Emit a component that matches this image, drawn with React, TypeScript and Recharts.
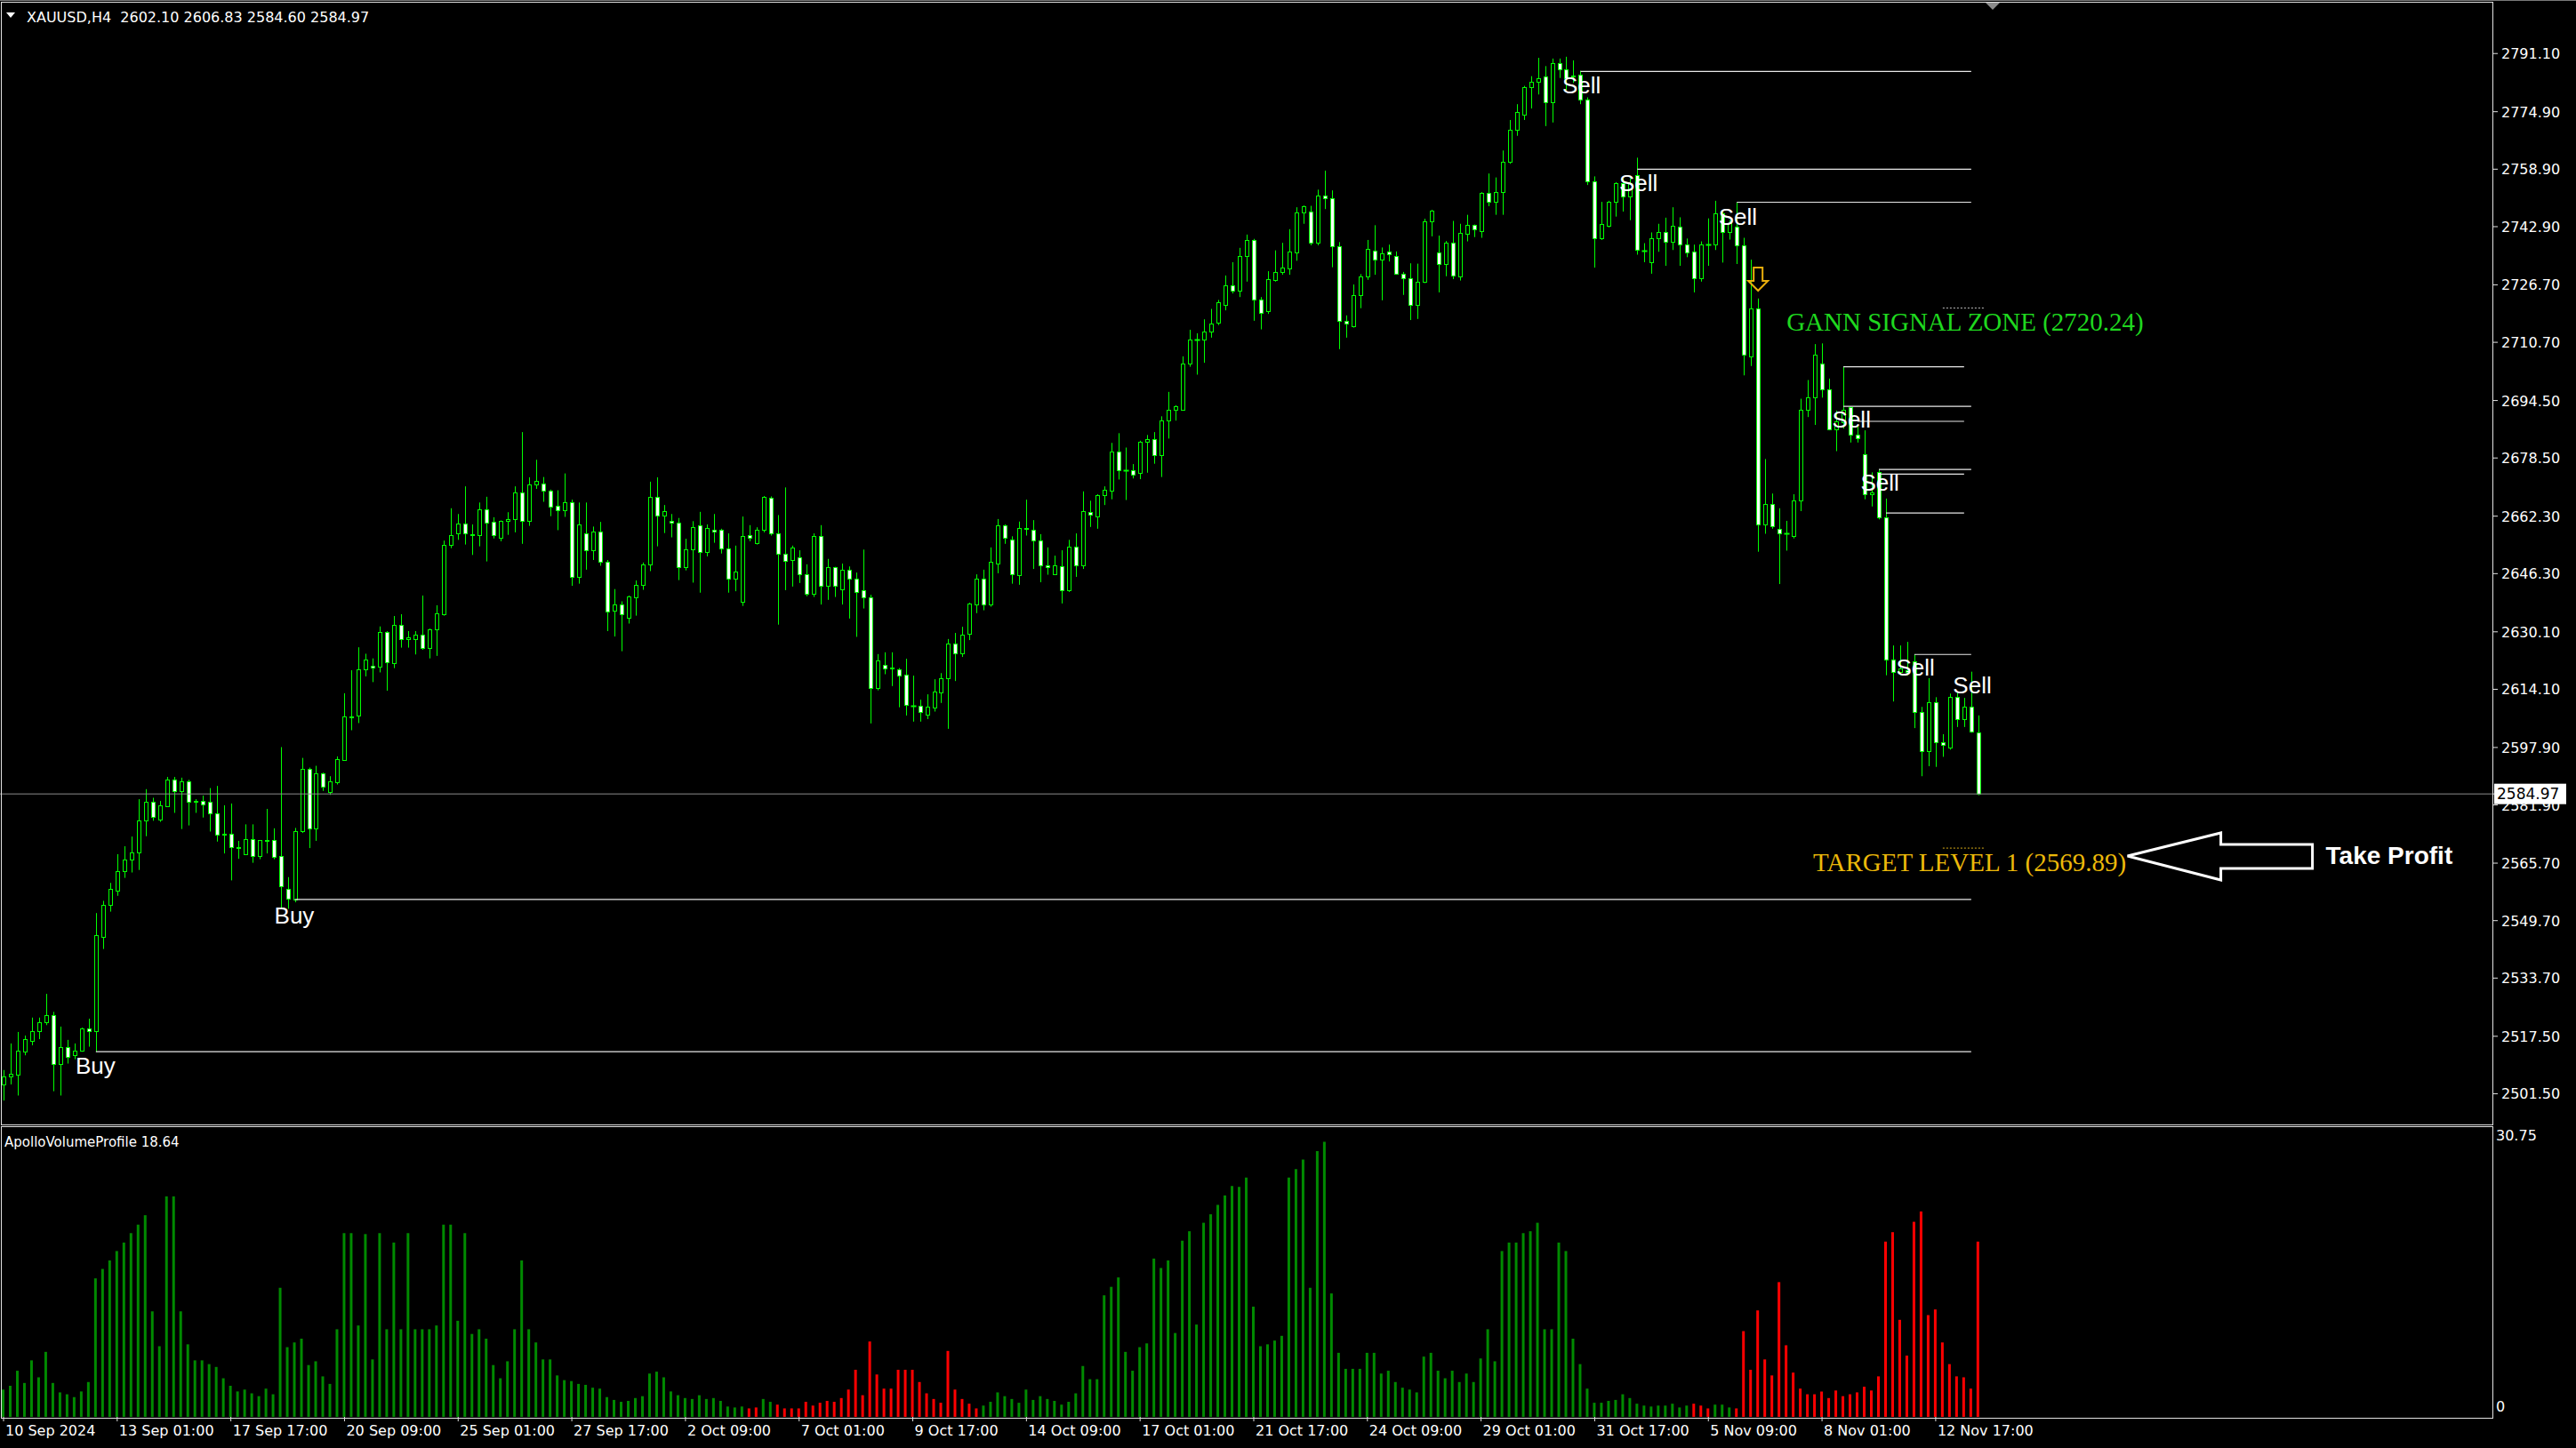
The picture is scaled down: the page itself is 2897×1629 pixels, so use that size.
import React from 'react';
import { ComposedChart, Bar, XAxis, YAxis, ReferenceLine, ReferenceDot, Cell } from 'recharts';

// XAUUSD H4 candles (bar 0 = 10 Sep 2024)
const opens = [
  2504.1, 2506.2, 2506.7, 2513.2, 2516.1, 2518.9, 2521.3, 2523.3, 2509.7, 2514.6,
  2512.2, 2513.4, 2519.6, 2518.9, 2545.1, 2554.2, 2558.0, 2563.4, 2566.6, 2568.6,
  2577.5, 2582.7, 2577.8, 2581.6, 2588.9, 2585.7, 2588.4, 2582.7, 2583.0, 2582.7,
  2579.5, 2573.7, 2573.8, 2570.0, 2568.3, 2572.3, 2567.8, 2572.0, 2572.1, 2567.6,
  2558.6, 2555.5, 2574.6, 2591.9, 2575.3, 2590.7, 2585.4, 2588.3, 2594.5, 2606.4,
  2606.8, 2619.7, 2620.6, 2620.3, 2630.1, 2621.5, 2632.0, 2628.0, 2628.0, 2629.2,
  2625.5, 2630.9, 2635.0, 2654.2, 2657.5, 2660.2, 2657.1, 2657.0, 2664.3, 2660.7,
  2656.4, 2660.9, 2661.4, 2668.8, 2660.9, 2671.1, 2671.5, 2669.5, 2665.2, 2663.9,
  2666.1, 2645.4, 2657.5, 2652.8, 2658.0, 2649.7, 2635.9, 2637.8, 2634.1, 2639.8,
  2643.1, 2648.8, 2667.7, 2662.4, 2661.1, 2660.6, 2648.0, 2653.0, 2659.7, 2652.2,
  2658.4, 2658.4, 2653.2, 2644.8, 2638.4, 2657.0, 2654.9, 2658.4, 2667.3, 2657.4,
  2651.9, 2650.1, 2650.8, 2646.2, 2640.8, 2656.7, 2642.8, 2648.0, 2642.0, 2647.3,
  2645.0, 2641.6, 2639.6, 2614.5, 2621.0, 2620.0, 2619.6, 2618.1, 2609.5, 2609.4,
  2607.0, 2609.1, 2613.3, 2617.3, 2626.8, 2624.0, 2629.6, 2637.7, 2644.8, 2637.7,
  2649.2, 2659.7, 2655.7, 2646.0, 2658.8, 2658.4, 2655.5, 2648.6, 2646.2, 2648.3,
  2641.8, 2653.7, 2648.5, 2663.5, 2662.1, 2668.1, 2669.5, 2680.2, 2675.1, 2675.1,
  2674.4, 2683.1, 2683.7, 2679.4, 2688.9, 2692.0, 2691.9, 2704.7, 2711.4, 2711.4,
  2713.6, 2716.1, 2721.0, 2726.5, 2725.0, 2734.7, 2739.2, 2722.7, 2719.4, 2728.0,
  2730.3, 2731.3, 2735.6, 2746.8, 2747.0, 2738.5, 2751.5, 2750.7, 2737.4, 2716.6,
  2715.3, 2723.8, 2729.0, 2736.3, 2733.7, 2735.9, 2734.7, 2729.9, 2728.6, 2721.2,
  2727.5, 2744.3, 2735.6, 2732.4, 2738.4, 2729.1, 2740.8, 2743.3, 2741.7, 2752.2,
  2749.9, 2752.5, 2760.9, 2769.8, 2774.1, 2781.7, 2783.2, 2784.6, 2777.5, 2788.5,
  2786.8, 2785.0, 2785.3, 2778.3, 2755.5, 2739.6, 2743.2, 2749.8, 2755.0, 2751.4,
  2757.2, 2736.2, 2733.0, 2739.8, 2741.3, 2738.6, 2743.0, 2738.0, 2735.9, 2728.6,
  2737.9, 2737.9, 2746.7, 2741.3, 2743.0, 2737.6, 2706.8, 2720.2, 2659.9, 2665.6,
  2658.8, 2657.4, 2656.9, 2666.6, 2691.9, 2695.3, 2704.9, 2697.5, 2686.5, 2688.5,
  2692.7, 2685.1, 2679.6, 2668.5, 2674.6, 2661.9, 2622.5, 2619.0, 2619.5, 2622.0,
  2607.9, 2596.8, 2610.4, 2599.3, 2597.8, 2612.1, 2605.7, 2609.2, 2602.1,
];

const highs = [
  2508.1, 2515.5, 2518.7, 2517.7, 2522.7, 2522.7, 2529.3, 2524.3, 2520.2, 2516.5,
  2515.5, 2519.9, 2522.4, 2551.8, 2555.2, 2560.2, 2568.2, 2570.4, 2573.1, 2583.5,
  2586.3, 2583.9, 2583.0, 2589.7, 2589.7, 2589.5, 2588.9, 2583.5, 2584.5, 2586.6,
  2587.2, 2581.8, 2582.3, 2571.9, 2576.5, 2576.5, 2572.1, 2580.8, 2575.4, 2598.0,
  2561.8, 2575.5, 2595.0, 2592.3, 2592.8, 2590.9, 2589.9, 2595.4, 2613.0, 2619.4,
  2625.8, 2624.0, 2622.7, 2631.6, 2630.3, 2634.5, 2635.0, 2630.3, 2630.3, 2640.2,
  2631.0, 2637.5, 2655.5, 2664.5, 2662.9, 2670.6, 2660.0, 2666.1, 2667.7, 2662.0,
  2661.1, 2663.4, 2670.6, 2685.7, 2673.1, 2678.0, 2673.2, 2669.7, 2669.5, 2674.2,
  2666.9, 2666.1, 2666.1, 2659.4, 2660.7, 2650.1, 2642.0, 2638.6, 2640.2, 2644.4,
  2649.4, 2671.9, 2673.1, 2665.4, 2662.9, 2661.8, 2656.0, 2660.9, 2663.5, 2660.0,
  2662.9, 2658.8, 2657.5, 2654.1, 2662.2, 2659.8, 2659.2, 2667.9, 2667.8, 2662.6,
  2670.3, 2654.1, 2652.8, 2648.9, 2657.5, 2659.8, 2650.4, 2648.2, 2649.1, 2648.3,
  2646.6, 2653.0, 2640.4, 2623.9, 2624.4, 2624.4, 2620.0, 2622.6, 2617.9, 2611.2,
  2612.7, 2616.9, 2618.6, 2628.1, 2629.8, 2631.5, 2638.2, 2646.1, 2647.4, 2653.6,
  2661.5, 2660.0, 2656.7, 2660.8, 2666.9, 2661.2, 2657.3, 2653.6, 2651.3, 2652.8,
  2655.7, 2657.5, 2669.2, 2666.6, 2668.4, 2670.6, 2682.7, 2685.4, 2681.4, 2676.8,
  2683.3, 2684.9, 2685.7, 2690.1, 2696.9, 2693.2, 2706.8, 2714.2, 2713.2, 2717.1,
  2720.0, 2722.5, 2729.3, 2733.0, 2737.0, 2740.7, 2739.5, 2723.3, 2730.5, 2736.3,
  2738.4, 2742.2, 2748.3, 2748.8, 2748.7, 2753.2, 2758.5, 2753.0, 2738.6, 2718.2,
  2726.8, 2729.7, 2739.2, 2743.3, 2737.1, 2737.9, 2736.0, 2730.3, 2732.7, 2732.6,
  2745.1, 2747.6, 2740.4, 2738.9, 2744.5, 2743.7, 2746.2, 2743.5, 2752.5, 2757.7,
  2756.6, 2764.1, 2772.6, 2777.0, 2782.1, 2784.8, 2789.9, 2787.6, 2789.7, 2789.7,
  2790.2, 2789.2, 2786.3, 2778.9, 2756.9, 2749.8, 2750.1, 2755.3, 2756.4, 2756.4,
  2762.1, 2738.3, 2741.3, 2743.7, 2745.4, 2748.3, 2745.5, 2739.6, 2737.9, 2738.8,
  2745.2, 2750.1, 2747.6, 2744.7, 2749.6, 2739.8, 2733.7, 2722.9, 2678.2, 2668.6,
  2664.5, 2661.0, 2668.4, 2695.0, 2700.2, 2710.2, 2710.4, 2700.6, 2691.7, 2703.9,
  2692.9, 2687.2, 2686.2, 2674.5, 2675.3, 2667.2, 2626.3, 2626.3, 2627.3, 2623.8,
  2609.2, 2617.2, 2611.9, 2601.6, 2612.9, 2613.4, 2611.7, 2619.0, 2606.83,
];

const lows = [
  2499.6, 2504.1, 2501.0, 2512.2, 2515.0, 2516.7, 2520.6, 2502.2, 2501.0, 2509.9,
  2511.1, 2513.2, 2514.6, 2513.2, 2541.8, 2552.2, 2556.6, 2561.6, 2563.1, 2563.8,
  2573.2, 2577.5, 2577.2, 2581.5, 2579.7, 2575.2, 2576.2, 2579.7, 2578.4, 2574.5,
  2571.7, 2568.4, 2560.9, 2566.9, 2568.0, 2565.8, 2566.8, 2568.4, 2566.8, 2553.0,
  2553.0, 2554.8, 2574.1, 2569.9, 2571.9, 2585.8, 2584.7, 2587.6, 2594.3, 2602.7,
  2604.7, 2617.7, 2616.1, 2618.8, 2613.7, 2620.0, 2625.7, 2625.7, 2623.8, 2625.1,
  2622.7, 2623.4, 2634.6, 2653.4, 2655.7, 2654.4, 2651.5, 2653.9, 2649.7, 2656.1,
  2655.3, 2657.1, 2657.8, 2654.6, 2659.6, 2669.9, 2666.3, 2662.3, 2658.4, 2662.1,
  2642.9, 2643.5, 2647.4, 2650.1, 2648.5, 2630.3, 2628.8, 2624.7, 2632.4, 2634.6,
  2641.8, 2647.0, 2653.9, 2657.6, 2656.4, 2644.5, 2647.2, 2643.8, 2641.0, 2651.1,
  2654.9, 2651.9, 2641.0, 2641.4, 2637.3, 2655.3, 2654.4, 2657.8, 2656.9, 2632.1,
  2641.7, 2642.7, 2643.7, 2640.0, 2639.8, 2637.7, 2639.0, 2639.8, 2637.7, 2633.8,
  2628.7, 2636.6, 2604.6, 2613.8, 2618.3, 2615.0, 2609.1, 2606.8, 2605.1, 2605.1,
  2605.8, 2607.9, 2610.3, 2603.1, 2616.4, 2623.1, 2627.8, 2635.3, 2636.1, 2637.1,
  2646.4, 2654.6, 2643.5, 2643.2, 2656.9, 2647.6, 2643.9, 2646.0, 2646.0, 2638.0,
  2641.2, 2645.4, 2647.6, 2659.3, 2658.8, 2665.4, 2667.0, 2672.5, 2666.8, 2672.8,
  2672.6, 2674.4, 2676.9, 2673.2, 2683.9, 2688.9, 2691.8, 2703.9, 2701.7, 2705.0,
  2712.0, 2715.5, 2719.6, 2724.3, 2723.3, 2727.6, 2716.7, 2714.3, 2718.6, 2727.6,
  2729.5, 2729.5, 2733.4, 2743.7, 2737.7, 2737.7, 2747.8, 2731.6, 2708.8, 2712.0,
  2714.8, 2720.2, 2728.1, 2729.5, 2722.4, 2733.2, 2729.5, 2723.9, 2716.9, 2717.2,
  2727.2, 2740.2, 2724.6, 2729.1, 2728.3, 2727.9, 2738.8, 2740.0, 2739.8, 2748.6,
  2746.2, 2746.2, 2760.4, 2768.2, 2772.6, 2775.8, 2779.7, 2770.9, 2771.9, 2784.3,
  2780.9, 2782.9, 2777.0, 2754.5, 2731.5, 2739.2, 2742.7, 2745.7, 2747.1, 2744.7,
  2735.1, 2733.0, 2729.8, 2735.9, 2732.0, 2736.4, 2732.0, 2734.4, 2724.6, 2727.6,
  2732.0, 2736.4, 2732.9, 2739.3, 2732.5, 2701.5, 2704.1, 2652.4, 2657.4, 2658.8,
  2643.4, 2652.7, 2656.1, 2663.7, 2689.9, 2687.7, 2695.3, 2686.2, 2680.4, 2686.7,
  2682.8, 2682.8, 2667.0, 2665.0, 2661.4, 2618.0, 2610.7, 2618.0, 2618.0, 2603.3,
  2589.9, 2592.7, 2592.5, 2595.3, 2597.3, 2603.6, 2603.6, 2602.0, 2584.6,
];

const closes = [
  2506.2, 2507.0, 2513.4, 2516.6, 2518.9, 2521.3, 2523.3, 2509.7, 2514.6, 2511.7,
  2513.4, 2519.6, 2518.9, 2545.6, 2554.2, 2558.5, 2563.4, 2566.7, 2568.6, 2577.5,
  2582.7, 2578.5, 2581.7, 2588.9, 2585.7, 2588.4, 2582.7, 2583.0, 2582.0, 2579.5,
  2573.6, 2573.8, 2570.1, 2570.1, 2572.3, 2567.8, 2572.1, 2572.1, 2567.4, 2559.3,
  2555.7, 2574.6, 2591.9, 2575.3, 2590.7, 2587.0, 2588.4, 2594.7, 2606.5, 2606.6,
  2619.7, 2622.4, 2620.2, 2630.1, 2621.6, 2632.0, 2628.0, 2628.5, 2629.2, 2625.5,
  2630.8, 2635.3, 2654.3, 2657.0, 2660.2, 2657.5, 2657.2, 2664.3, 2660.6, 2657.1,
  2661.1, 2661.4, 2668.8, 2660.9, 2671.1, 2672.2, 2669.4, 2665.0, 2663.9, 2666.1,
  2645.4, 2660.0, 2652.8, 2658.0, 2649.7, 2635.7, 2637.8, 2635.1, 2639.9, 2643.1,
  2648.8, 2667.7, 2662.4, 2663.6, 2660.6, 2648.0, 2653.0, 2659.3, 2652.2, 2658.9,
  2657.9, 2653.2, 2644.8, 2647.0, 2656.7, 2656.2, 2658.4, 2667.6, 2657.4, 2651.9,
  2649.9, 2653.5, 2646.2, 2640.8, 2656.7, 2642.8, 2648.0, 2642.8, 2647.3, 2645.0,
  2641.3, 2639.6, 2614.5, 2622.1, 2620.0, 2620.1, 2617.9, 2609.7, 2609.6, 2607.9,
  2609.2, 2613.4, 2617.3, 2626.8, 2624.0, 2629.2, 2637.9, 2644.8, 2637.7, 2649.5,
  2659.7, 2656.4, 2646.2, 2658.9, 2658.9, 2655.5, 2648.7, 2648.0, 2648.5, 2641.8,
  2653.7, 2648.5, 2663.6, 2662.7, 2668.1, 2669.6, 2680.2, 2675.0, 2675.2, 2673.8,
  2682.9, 2683.7, 2679.4, 2688.9, 2692.0, 2692.8, 2704.7, 2711.4, 2711.5, 2713.6,
  2715.8, 2721.8, 2726.5, 2725.0, 2734.7, 2739.2, 2722.7, 2719.0, 2728.2, 2730.4,
  2731.4, 2735.9, 2746.8, 2748.6, 2738.5, 2751.5, 2750.7, 2737.4, 2716.6, 2715.8,
  2723.8, 2729.0, 2736.7, 2733.7, 2735.5, 2735.3, 2729.9, 2728.5, 2721.2, 2727.5,
  2744.3, 2747.3, 2732.4, 2738.4, 2729.4, 2741.1, 2743.3, 2742.1, 2752.2, 2749.9,
  2752.5, 2760.9, 2769.8, 2774.7, 2781.7, 2783.2, 2784.3, 2777.5, 2788.5, 2786.8,
  2784.3, 2784.6, 2778.3, 2755.5, 2739.6, 2743.7, 2749.8, 2755.0, 2751.4, 2755.0,
  2736.4, 2736.3, 2739.8, 2741.3, 2738.6, 2743.2, 2738.0, 2735.7, 2728.6, 2737.9,
  2738.0, 2746.7, 2741.3, 2743.9, 2737.6, 2707.2, 2720.2, 2660.1, 2665.6, 2659.4,
  2657.4, 2657.5, 2666.6, 2691.9, 2695.3, 2707.2, 2697.7, 2686.5, 2688.7, 2691.9,
  2684.9, 2684.1, 2668.5, 2669.0, 2661.9, 2622.5, 2619.0, 2620.0, 2618.8, 2607.9,
  2596.8, 2610.4, 2599.3, 2598.5, 2612.1, 2605.7, 2609.2, 2602.3, 2584.97,
];

// ApolloVolumeProfile histogram
const volumes = [
  2.9, 3.3, 4.9, 3.6, 6.0, 4.2, 6.9, 3.6, 2.6, 2.4, 2.1, 2.7, 3.7,
  14.7, 15.7, 16.6, 17.6, 18.5, 19.5, 20.4, 21.4,
  11.2, 7.5, 23.4, 23.4, 11.2, 7.7, 6.0, 6.0, 5.6, 5.3, 4.1, 3.3, 2.7, 2.9, 2.5, 2.2, 3.0, 2.4,
  13.7, 7.4, 7.9, 8.3, 5.5, 5.9, 4.3, 3.5, 9.3, 19.5, 19.5, 9.7,
  19.4, 6.1, 19.5, 9.3, 18.5, 9.3, 19.5, 9.3, 9.3, 9.3, 9.7, 20.4, 20.4, 10.2, 19.5, 8.8, 9.3, 8.3, 5.5, 4.1, 5.9, 9.3,
  16.6, 9.3, 7.9, 6.1, 6.1, 4.4, 3.9, 3.8, 3.5, 3.4, 3.1, 3.0, 2.1, 1.8, 1.6, 1.7, 2.0, 2.2,
  4.6, 4.8, 4.2, 2.7, 2.3, 2.0, 1.9, 2.3, 1.9, 2.0, 1.7, 1.1, 1.0, 1.1,
  0.9, 1.0, 1.9, 1.6, 1.3, 0.9, 0.9, 0.9, 1.6, 1.2, 1.5, 1.7, 1.6, 2.0, 2.9, 5.0, 2.3, 8.0, 4.5, 3.0, 3.0, 5.0, 5.0, 5.0, 3.7, 2.5, 1.9, 1.5, 7.0, 2.9, 1.9, 1.4, 0.9,
  1.2, 1.6, 2.6, 2.2, 1.9, 1.5, 2.9, 1.8, 2.2, 1.9, 1.7, 1.3, 1.6, 2.5, 5.4, 4.0, 4.0,
  12.9, 13.8, 14.8, 6.9, 4.9, 7.4, 7.8, 16.8, 15.8, 16.6, 8.9, 18.7, 19.7, 9.8, 20.6, 21.5, 22.5, 23.5, 24.5, 24.4, 25.4, 11.7,
  7.5, 7.7, 8.1, 8.6, 25.4, 26.3, 27.3, 13.7, 28.2, 29.2, 13.1, 6.8, 5.1, 5.1, 5.1, 6.8, 6.8, 4.6, 4.9, 3.7, 3.1, 2.9, 2.6, 6.4,
  6.8, 4.9, 4.1, 4.9, 3.7, 4.6, 3.7, 6.2, 9.3, 5.9, 17.6, 18.5, 18.5, 19.5, 19.7, 20.6, 9.3, 9.3, 18.5, 17.6, 8.3, 5.6,
  3.0, 1.5, 1.5, 1.7, 1.8, 2.4, 2.0, 1.4, 1.2, 1.1, 1.2, 1.2, 1.4, 1.0, 1.2, 1.4, 1.2, 0.9, 1.3, 1.3, 1.0, 0.9,
  9.1, 5.0, 11.3, 6.1, 4.4, 14.3, 7.6, 4.7, 3.0, 2.4, 2.4, 2.7, 2.0, 2.8, 2.2, 2.4, 2.6, 3.2, 2.8, 4.3, 18.6, 19.6, 10.3, 6.5, 20.7, 21.8, 10.8, 11.4, 7.9, 5.6, 4.3, 4.2, 3.0, 18.6,
];
const redVolumeRanges: [number, number][] = [[105, 106], [109, 137], [238, 240], [244, 278]];

const timeLabelBars = [0, 16, 32, 48, 64, 80, 96, 112, 128, 144, 160, 176, 192, 208, 224, 240, 256, 272];
const timeLabels = [
  '10 Sep 2024', '13 Sep 01:00', '17 Sep 17:00', '20 Sep 09:00', '25 Sep 01:00', '27 Sep 17:00',
  '2 Oct 09:00', '7 Oct 01:00', '9 Oct 17:00', '14 Oct 09:00', '17 Oct 01:00', '21 Oct 17:00',
  '24 Oct 09:00', '29 Oct 01:00', '31 Oct 17:00', '5 Nov 09:00', '8 Nov 01:00', '12 Nov 17:00',
];
const priceTicks = [
  2791.1, 2774.9, 2758.9, 2742.9, 2726.7, 2710.7, 2694.5, 2678.5, 2662.3, 2646.3,
  2630.1, 2614.1, 2597.9, 2581.9, 2565.7, 2549.7, 2533.7, 2517.5, 2501.5,
];
const lastPrice = 2584.97;
const gannLevel = 2720.24;
const targetLevel = 2569.89;

// signal levels: start bar, end bar, price
const buyLevels = [
  { from: 13, to: 277, price: 2513.2 },
  { from: 41, to: 277, price: 2555.6 },
];
const sellLevels = [
  { from: 222, to: 277, price: 2786.1 },
  { from: 230, to: 277, price: 2758.9 },
  { from: 244, to: 277, price: 2749.7 },
  { from: 259, to: 276, price: 2703.9 },
  { from: 259, to: 277, price: 2692.9 },
  { from: 261, to: 276, price: 2688.7 },
  { from: 264, to: 277, price: 2675.3 },
  { from: 264, to: 276, price: 2674.0 },
  { from: 265, to: 276, price: 2663.2 },
  { from: 269, to: 277, price: 2623.8 },
];
const sellLabels = [
  { bar: 219, price: 2780.0 }, { bar: 227, price: 2752.8 }, { bar: 241, price: 2743.5 },
  { bar: 257, price: 2687.0 }, { bar: 261, price: 2669.3 }, { bar: 266, price: 2617.9 },
  { bar: 274, price: 2613.0 },
];
const buyLabels = [{ bar: 10, price: 2507.1 }, { bar: 38, price: 2548.9 }];

const W = 2897;
const H = 1629;
const AXIS_W = 93;
const SLOTS = 351;
const FONT = '"DejaVu Sans", Verdana, sans-serif';
const GREEN = '#00ff00';
const FRAME = '#e2e2e2';

const isRed = (i: number) => redVolumeRanges.some(([a, b]) => i >= a && i <= b);

const data = Array.from({ length: SLOTS }, (_, i) =>
  i < closes.length
    ? { i, o: opens[i], h: highs[i], l: lows[i], c: closes[i], range: [lows[i], highs[i]], v: volumes[i] }
    : { i }
);

const Candle = (props: any) => {
  const { x, y, width, height, payload } = props;
  if (!payload || payload.c == null) return null;
  const top = Math.min(y, y + height);
  const bottom = Math.max(y, y + height);
  const span = payload.h - payload.l;
  const yOf = (v: number) => (span > 0 ? top + ((payload.h - v) / span) * (bottom - top) : top);
  const cx = Math.round(x + width / 2) + 0.5;
  const yo = yOf(payload.o);
  const yc = yOf(payload.c);
  const bTop = Math.round(Math.min(yo, yc)) + 0.5;
  const bBot = Math.round(Math.max(yo, yc)) + 0.5;
  const bear = payload.c < payload.o;
  return (
    <g>
      <line x1={cx} x2={cx} y1={top} y2={bottom} stroke={GREEN} strokeWidth={1} />
      {bBot - bTop < 1 ? (
        <line x1={cx - 3} x2={cx + 3} y1={bTop} y2={bTop} stroke={GREEN} strokeWidth={2} />
      ) : (
        <rect x={cx - 2} y={bTop} width={4} height={bBot - bTop} fill={bear ? '#ffffff' : '#000000'} stroke={GREEN} strokeWidth={1} />
      )}
    </g>
  );
};

const PriceTick = (props: any) => {
  const { x, y, payload } = props;
  const label = Number(payload.value).toFixed(2);
  if (payload.value === lastPrice) {
    return (
      <g>
        <rect x={x - 8} y={y - 11.5} width={81} height={23} fill="#ffffff" />
        <text x={x - 5} y={y} dy={6} fill="#000" fontSize={17} fontFamily={FONT}>{label}</text>
      </g>
    );
  }
  return <text x={x} y={y} dy={6} fill="#fff" fontSize={16} fontFamily={FONT}>{label}</text>;
};

const VolTick = (props: any) => {
  const { x, y, payload } = props;
  const top = payload.value !== 0;
  return (
    <text x={x} y={y} dy={top ? 15 : -6} fill="#fff" fontSize={16} fontFamily={FONT}>
      {top ? Number(payload.value).toFixed(2) : '0'}
    </text>
  );
};

const TimeTick = (props: any) => {
  const { x, y, payload } = props;
  const k = timeLabelBars.indexOf(payload.value);
  if (k < 0) return null;
  return <text x={x + 2} y={y} dy={14} fill="#fff" fontSize={16} fontFamily={FONT}>{timeLabels[k]}</text>;
};

const whiteText = (text: string, size: number, dx: number, bold = false) => (p: any) => (
  <text x={p.cx + dx} y={p.cy} fill="#fff" fontSize={size} fontWeight={bold ? 700 : 400} fontFamily='"Liberation Sans", Arial, sans-serif'>{text}</text>
);

const serifText = (text: string, color: string, dx: number) => (p: any) => (
  <text x={p.cx + dx} y={p.cy} fill={color} fontSize={29} fontFamily='"Liberation Serif", "Times New Roman", serif'>{text}</text>
);

const DownArrow = (p: any) => {
  const x = p.cx;
  const y = p.cy;
  const pts = [[-5, 0], [5, 0], [5, 15], [11, 15], [0, 26], [-11, 15], [-5, 15]]
    .map(([a, b]) => `${x + a},${y + b}`).join(' ');
  return <polygon points={pts} fill="none" stroke="#eaae0c" strokeWidth={2} />;
};

const TakeProfit = (p: any) => {
  const x = p.cx;
  const y = p.cy;
  const pts = [[0, 0], [105, -26], [105, -13], [208, -13], [208, 14], [105, 14], [105, 27]]
    .map(([a, b]) => `${x + a},${y + b}`).join(' ');
  return (
    <g>
      <polygon points={pts} fill="none" stroke="#fff" strokeWidth={3} strokeLinejoin="miter" />
      <text x={x + 223} y={y + 9} fill="#fff" fontSize={28} fontWeight={700} fontFamily='"Liberation Sans", Arial, sans-serif'>Take Profit</text>
    </g>
  );
};

export default function App() {
  return (
    <div style={{ position: 'absolute', left: 0, top: 0, width: W, height: H, background: '#000', overflow: 'hidden' }}>
      <div style={{ position: 'absolute', left: 0, top: 0 }}>
        <ComposedChart width={W} height={1266} data={data} margin={{ top: 3, right: 0, bottom: 2, left: 0 }} barCategoryGap={0}>
          <XAxis dataKey="i" type="category" hide />
          <YAxis
            orientation="right"
            type="number"
            domain={[2493.2, 2805.26]}
            allowDataOverflow
            ticks={[...priceTicks, lastPrice]}
            interval={0}
            width={AXIS_W}
            axisLine={false}
            tickLine={{ stroke: FRAME }}
            tickSize={5}
            tickMargin={4}
            tick={<PriceTick />}
          />
          <ReferenceLine y={lastPrice} stroke="#8c8c8c" strokeWidth={1} />
          <Bar dataKey="range" barSize={6} shape={<Candle />} isAnimationActive={false} />
          {buyLevels.map((b, k) => (
            <ReferenceLine key={`b${k}`} segment={[{ x: b.from, y: b.price }, { x: b.to, y: b.price }]} stroke="#e8e8e8" strokeWidth={1.2} />
          ))}
          {sellLevels.map((s, k) => (
            <ReferenceLine key={`s${k}`} segment={[{ x: s.from, y: s.price }, { x: s.to, y: s.price }]} stroke="#e8e8e8" strokeWidth={1.2} />
          ))}
          <ReferenceLine segment={[{ x: 273, y: gannLevel }, { x: 279, y: gannLevel }]} stroke="#bdbdbd" strokeDasharray="2 2" />
          <ReferenceLine segment={[{ x: 273, y: targetLevel }, { x: 279, y: targetLevel }]} stroke="#d9ad17" strokeDasharray="2 2" />
          {sellLabels.map((s, k) => (
            <ReferenceDot key={`sl${k}`} x={s.bar} y={s.price} r={0} shape={whiteText('Sell', 26, 3.5)} />
          ))}
          {buyLabels.map((b, k) => (
            <ReferenceDot key={`bl${k}`} x={b.bar} y={b.price} r={0} shape={whiteText('Buy', 26, 1)} />
          ))}
          <ReferenceDot x={251} y={2713.9} r={0} shape={serifText(`GANN SIGNAL ZONE (${gannLevel.toFixed(2)})`, '#1fd81f', 0)} />
          <ReferenceDot x={254} y={2563.5} r={0} shape={serifText(`TARGET LEVEL 1 (${targetLevel.toFixed(2)})`, '#ecb90a', 6)} />
          <ReferenceDot x={247} y={2731.5} r={0} shape={DownArrow} />
          <ReferenceDot x={299} y={2567.7} r={0} shape={TakeProfit} />
        </ComposedChart>
      </div>

      <div style={{ position: 'absolute', left: 0, top: 1266 }}>
        <ComposedChart width={W} height={363} data={data} margin={{ top: 2, right: 0, bottom: 0, left: 0 }} barCategoryGap={0}>
          <XAxis
            dataKey="i"
            type="category"
            ticks={timeLabelBars}
            interval={0}
            height={35}
            axisLine={false}
            tickLine={{ stroke: FRAME }}
            tickSize={5}
            tickMargin={2}
            tick={<TimeTick />}
          />
          <YAxis
            orientation="right"
            type="number"
            domain={[0, 30.75]}
            allowDataOverflow
            ticks={[0, 30.75]}
            interval={0}
            width={AXIS_W}
            axisLine={false}
            tickLine={false}
            tickSize={0}
            tickMargin={3}
            tick={<VolTick />}
          />
          <Bar dataKey="v" barSize={3} isAnimationActive={false}>
            {data.map((d) => (
              <Cell key={d.i} fill={isRed(d.i) ? '#ff0000' : '#008a00'} />
            ))}
          </Bar>
        </ComposedChart>
      </div>

      <svg width={W} height={H} style={{ position: 'absolute', left: 0, top: 0, pointerEvents: 'none' }}>
        <line x1={0} x2={W} y1={0.5} y2={0.5} stroke="#7a7a7a" />
        <rect x={1.5} y={2.5} width={2802} height={1263} fill="none" stroke={FRAME} />
        <rect x={1.5} y={1267.5} width={2802} height={328} fill="none" stroke={FRAME} />
        <polygon points="7,14 17,14 12,20" fill="#fff" />
        <text x={30} y={25} fill="#fff" fontSize={16} fontFamily={FONT} style={{ whiteSpace: 'pre' }}>
          {'XAUUSD,H4  2602.10 2606.83 2584.60 2584.97'}
        </text>
        <polygon points="2233,3 2249,3 2241,11" fill="#8c8c8c" />
        <text x={5} y={1290} fill="#fff" fontSize={15} fontFamily={FONT}>ApolloVolumeProfile 18.64</text>
      </svg>
    </div>
  );
}
